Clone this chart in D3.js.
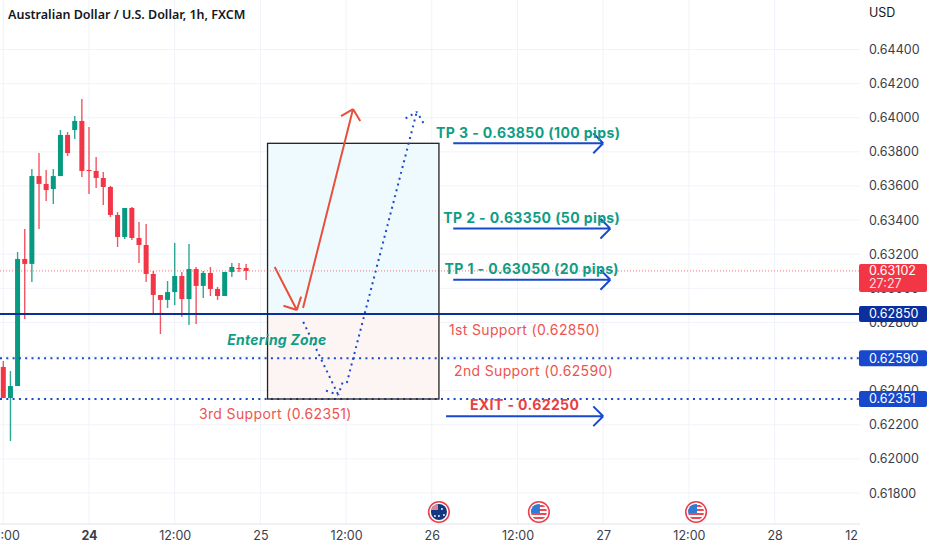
<!DOCTYPE html>
<html>
<head>
<meta charset="utf-8">
<script src="https://cdn.jsdelivr.net/npm/d3@7"></script>
<style>
  html, body { margin: 0; padding: 0; background: #fff; overflow: hidden; }
  text { font-family: Inter, "Noto Sans", sans-serif; }
</style>
</head>
<body>
<div id="chart"></div>
<script>
// hours counted from the 24th 00:00
var candleHours = d3.range(-12, 23);
var opens  = [0.62539,0.62357,0.62427,0.63172,0.63143,0.63658,0.63612,0.63582,0.63658,0.63899,0.63928,0.63981,0.63694,0.63688,0.63647,0.63594,0.63430,0.63301,0.63471,0.63295,0.63254,0.63084,0.62961,0.62932,0.62978,0.63072,0.62937,0.63113,0.63014,0.63090,0.62996,0.62955,0.63096,0.63119,0.63119];
var highs  = [0.62574,0.62515,0.63213,0.63348,0.63699,0.63793,0.63694,0.63699,0.63928,0.63916,0.64010,0.64110,0.63946,0.63770,0.63682,0.63600,0.63447,0.63471,0.63477,0.63389,0.63377,0.63102,0.62961,0.63043,0.63266,0.63096,0.63260,0.63125,0.63102,0.63125,0.63008,0.63096,0.63148,0.63148,0.63143];
var lows   = [0.62357,0.62105,0.62427,0.62820,0.63037,0.63348,0.63512,0.63494,0.63658,0.63776,0.63875,0.63653,0.63553,0.63588,0.63488,0.63418,0.63242,0.63289,0.63283,0.63148,0.63037,0.62855,0.62732,0.62885,0.62902,0.62832,0.62785,0.62791,0.62943,0.62955,0.62932,0.62955,0.63066,0.63096,0.63049];
var closes = [0.62357,0.62427,0.63172,0.63143,0.63658,0.63612,0.63576,0.63658,0.63899,0.63793,0.63981,0.63688,0.63688,0.63647,0.63594,0.63430,0.63301,0.63471,0.63295,0.63254,0.63084,0.62961,0.62932,0.62978,0.63072,0.62937,0.63113,0.63014,0.63090,0.62996,0.62955,0.63096,0.63125,0.63113,0.63102];

var priceTicks = [0.644,0.642,0.640,0.638,0.636,0.634,0.632,0.630,0.628,0.626,0.624,0.622,0.620,0.618];
var timeTicks  = [-12,0,12,24,36,48,60,72,84,96];
var timeLabels = ["12:00","24","12:00","25","12:00","26","12:00","27","12:00","28"];
var lastTimeTick = 106.7;
var lastTimeLabel = "12";

var lastPrice = 0.63102;
var entryLevel = 0.6285;
var dottedLevels = [0.6259, 0.62351];

// trade box
var boxHours = [25, 49];
var boxPrices = [0.6385, 0.6285, 0.62351];

// straight arrows drawn on the chart [hour, price, hour, price]
var redArrows = [[26.0,0.63125,29.1,0.62873],[29.97,0.62885,36.97,0.64051]];
var dottedArrows = [[30.0,0.62803,34.9,0.62375],[36.1,0.62445,45.9,0.64035]];
var blueArrows = [[51,0.6385,72,0.6385],[51,0.6335,73,0.6335],[51,0.6305,73,0.6305],[50,0.6225,72,0.6225]];

var noteTexts  = ["TP 3 - 0.63850 (100 pips)","TP 2 - 0.63350 (50 pips)","TP 1 - 0.63050 (20 pips)","1st Support (0.62850)","2nd Support (0.62590)","EXIT - 0.62250","3rd Support (0.62351)","Entering Zone"];
var noteHours  = [61.5,62,62,61,62.25,61,26.1,26.3];
var notePrices = [0.63911,0.63412,0.63113,0.62756,0.62515,0.62316,0.62263,0.62697];
var noteKinds  = ["tp","tp","tp","sup","sup","exit","sup","zone"];

var flagHours = [49, 63, 85];
var flagKinds = ["au", "us", "us"];

var width = 932, height = 550, plotRight = 860, plotBottom = 524;

var x = d3.scaleLinear().domain([0, 12]).range([89, 174.7]);
var y = d3.scaleLinear().domain([0.644, 0.618]).range([49.5, 493]);

var svg = d3.select("#chart").append("svg")
  .attr("width", width).attr("height", height)
  .style("display", "block");

var fmt = d3.format(".5f");
var green = "#089981", red = "#f23645", blue = "#1848cc", navy = "#0b2f9c", grid = "#f0f3fa";

// grid
svg.append("g").selectAll("line").data(priceTicks).enter().append("line")
  .attr("x1", 0).attr("x2", plotRight)
  .attr("y1", function (d) { return y(d); }).attr("y2", function (d) { return y(d); })
  .attr("stroke", grid);
svg.append("g").selectAll("line").data(timeTicks).enter().append("line")
  .attr("x1", function (d) { return x(d); }).attr("x2", function (d) { return x(d); })
  .attr("y1", 0).attr("y2", plotBottom)
  .attr("stroke", grid);
svg.append("line").attr("x1", 0).attr("x2", plotRight)
  .attr("y1", plotBottom).attr("y2", plotBottom)
  .attr("stroke", "#e0e3eb");

// trade box fills
svg.append("rect")
  .attr("x", x(boxHours[0])).attr("y", y(boxPrices[0]))
  .attr("width", x(boxHours[1]) - x(boxHours[0])).attr("height", y(boxPrices[1]) - y(boxPrices[0]))
  .attr("fill", "#eefafd");
svg.append("rect")
  .attr("x", x(boxHours[0])).attr("y", y(boxPrices[1]))
  .attr("width", x(boxHours[1]) - x(boxHours[0])).attr("height", y(boxPrices[2]) - y(boxPrices[1]))
  .attr("fill", "#fdf5f4");

// candles
var candles = svg.append("g").selectAll("g").data(candleHours).enter().append("g");
function candleColor(i) { return closes[i] > opens[i] ? green : red; }
candles.append("line")
  .attr("x1", function (d) { return x(d); }).attr("x2", function (d) { return x(d); })
  .attr("y1", function (d, i) { return y(highs[i]); })
  .attr("y2", function (d, i) { return y(lows[i]); })
  .attr("stroke", function (d, i) { return candleColor(i); })
  .attr("stroke-opacity", 0.85)
  .attr("stroke-width", 1.4);
candles.append("rect")
  .attr("x", function (d) { return x(d) - 2.5; })
  .attr("width", 5)
  .attr("y", function (d, i) { return y(Math.max(opens[i], closes[i])); })
  .attr("height", function (d, i) { return Math.max(1, Math.abs(y(opens[i]) - y(closes[i]))); })
  .attr("fill", function (d, i) { return candleColor(i); });

// levels
svg.append("line").attr("x1", 0).attr("x2", plotRight)
  .attr("y1", y(lastPrice)).attr("y2", y(lastPrice))
  .attr("stroke", red).attr("stroke-opacity", 0.7).attr("stroke-dasharray", "1 2");
svg.append("g").selectAll("line").data(dottedLevels).enter().append("line")
  .attr("x1", 0).attr("x2", plotRight)
  .attr("y1", function (d) { return y(d); }).attr("y2", function (d) { return y(d); })
  .attr("stroke", blue).attr("stroke-width", 2).attr("stroke-dasharray", "2 4.3");
svg.append("line").attr("x1", 0).attr("x2", plotRight)
  .attr("y1", y(entryLevel)).attr("y2", y(entryLevel))
  .attr("stroke", navy).attr("stroke-width", 2);

// box outline
svg.append("rect")
  .attr("x", x(boxHours[0])).attr("y", y(boxPrices[0]))
  .attr("width", x(boxHours[1]) - x(boxHours[0])).attr("height", y(boxPrices[2]) - y(boxPrices[0]))
  .attr("fill", "none").attr("stroke", "#222").attr("stroke-width", 1.3);

// arrows
function arrowPath(a, len) {
  var x0 = x(a[0]), y0 = y(a[1]), x1 = x(a[2]), y1 = y(a[3]);
  var ang = Math.atan2(y1 - y0, x1 - x0);
  var p = d3.path();
  p.moveTo(x0, y0);
  p.lineTo(x1, y1);
  [-Math.PI / 4, Math.PI / 4].forEach(function (da) {
    p.moveTo(x1 - len * Math.cos(ang + da), y1 - len * Math.sin(ang + da));
    p.lineTo(x1, y1);
  });
  return p.toString();
}
svg.append("g").selectAll("path").data(redArrows).enter().append("path")
  .attr("d", function (d) { return arrowPath(d, 14); })
  .attr("fill", "none").attr("stroke", "#e8503c").attr("stroke-width", 2);
svg.append("g").selectAll("path").data(dottedArrows).enter().append("path")
  .attr("d", function (d) { return arrowPath(d, 13); })
  .attr("fill", "none").attr("stroke", blue).attr("stroke-width", 2).attr("stroke-dasharray", "2 4");
svg.append("g").selectAll("path").data(blueArrows).enter().append("path")
  .attr("d", function (d) { return arrowPath(d, 14); })
  .attr("fill", "none").attr("stroke", blue).attr("stroke-width", 2);

// notes
var noteStyle = {
  tp:   { color: "#0f9d85", weight: 700, size: 14, italic: "normal", spacing: 0.4 },
  sup:  { color: "#ee5350", weight: 400, size: 14, italic: "normal", spacing: 0.35 },
  exit: { color: "#e8403f", weight: 700, size: 14, italic: "normal", spacing: 0.4 },
  zone: { color: "#0f9d85", weight: 700, size: 14, italic: "italic", spacing: 0.25 }
};
svg.append("g").selectAll("text").data(noteTexts).enter().append("text")
  .attr("x", function (d, i) { return x(noteHours[i]); })
  .attr("y", function (d, i) { return y(notePrices[i]); })
  .attr("dy", "0.35em")
  .attr("text-anchor", "middle")
  .attr("fill", function (d, i) { return noteStyle[noteKinds[i]].color; })
  .attr("font-weight", function (d, i) { return noteStyle[noteKinds[i]].weight; })
  .attr("font-size", function (d, i) { return noteStyle[noteKinds[i]].size; })
  .attr("font-style", function (d, i) { return noteStyle[noteKinds[i]].italic; })
  .attr("letter-spacing", function (d, i) { return noteStyle[noteKinds[i]].spacing; })
  .text(function (d) { return d; });

// event flags
var defs = svg.append("defs");
var flags = svg.append("g").selectAll("g").data(flagHours).enter().append("g")
  .attr("transform", function (d) { return "translate(" + x(d) + ",512)"; });
flags.each(function (d, i) {
  var g = d3.select(this);
  var id = "flagclip" + i;
  defs.append("clipPath").attr("id", id).append("circle").attr("r", 8);
  var inner = g.append("g").attr("clip-path", "url(#" + id + ")");
  if (flagKinds[i] === "au") {
    inner.append("rect").attr("x", -9).attr("y", -9).attr("width", 18).attr("height", 18).attr("fill", "#12387f");
    inner.append("rect").attr("x", -9).attr("y", -9).attr("width", 8).attr("height", 7).attr("fill", "#d98a9a");
    [[3, -3], [5, 3], [0, 4], [-4, 4]].forEach(function (s) {
      inner.append("circle").attr("cx", s[0]).attr("cy", s[1]).attr("r", 0.9).attr("fill", "#fff");
    });
  } else {
    [-7, -3, 1, 5].forEach(function (s) {
      inner.append("rect").attr("x", -9).attr("y", s).attr("width", 18).attr("height", 2).attr("fill", "#ea4a55");
    });
    inner.append("rect").attr("x", -9).attr("y", -9).attr("width", 10).attr("height", 10).attr("fill", "#2d7dd2");
  }
  g.append("circle").attr("r", 10.3).attr("fill", "none").attr("stroke", "#ea3f4c").attr("stroke-width", 1.6);
});

// price axis
var priceAxis = d3.axisRight(y).tickValues(priceTicks).tickSize(0).tickPadding(0).tickFormat(fmt);
var pa = svg.append("g").attr("transform", "translate(869,0)").call(priceAxis);
pa.select(".domain").remove();
pa.selectAll("text").attr("font-size", 12.5).attr("fill", "#3a3e4a").style("font-family", "Inter");

svg.append("text").attr("x", 869).attr("y", 12.5).attr("dy", "0.35em")
  .attr("font-size", 12.5).attr("fill", "#131722").text("USD");

// time axis
var timeAxis = d3.axisBottom(x).tickValues(timeTicks.concat([lastTimeTick])).tickSize(0).tickPadding(0)
  .tickFormat(function (d, i) { return i < timeLabels.length ? timeLabels[i] : lastTimeLabel; });
var ta = svg.append("g").attr("transform", "translate(0,531)").call(timeAxis);
ta.select(".domain").remove();
ta.selectAll("text").attr("font-size", 12.5).attr("fill", "#3a3e4a").style("font-family", "Inter")
  .attr("font-weight", function (d) { return d === 0 ? 700 : 400; });

// price labels on the axis
var tagPrices = [lastPrice, entryLevel].concat(dottedLevels);
var tagColors = [red, navy, blue, blue];
svg.append("rect").attr("x", 859).attr("y", y(lastPrice) - 7).attr("width", 68).attr("height", 28).attr("rx", 2).attr("fill", red);
svg.append("g").selectAll("rect").data(tagPrices.slice(1)).enter().append("rect")
  .attr("x", 859).attr("width", 68).attr("height", 16).attr("rx", 2)
  .attr("y", function (d) { return y(d) - 8; })
  .attr("fill", function (d, i) { return tagColors[i + 1]; });
svg.append("g").selectAll("text").data(tagPrices).enter().append("text")
  .attr("x", 869).attr("y", function (d) { return y(d); }).attr("dy", "0.35em")
  .attr("font-size", 12.5).attr("fill", "#fff")
  .text(function (d) { return fmt(d); });
svg.append("text").attr("x", 869).attr("y", y(lastPrice) + 13).attr("dy", "0.35em")
  .attr("font-size", 12.5).attr("fill", "#fff").attr("fill-opacity", 0.85).text("27:27");

// title
svg.append("text").attr("x", 8).attr("y", 15).attr("dy", "0.35em")
  .attr("font-size", 12.5).attr("font-weight", 600).attr("fill", "#131722")
  .style("font-family", "'Noto Sans'")
  .text("Australian Dollar / U.S. Dollar, 1h, FXCM");
</script>
</body>
</html>
